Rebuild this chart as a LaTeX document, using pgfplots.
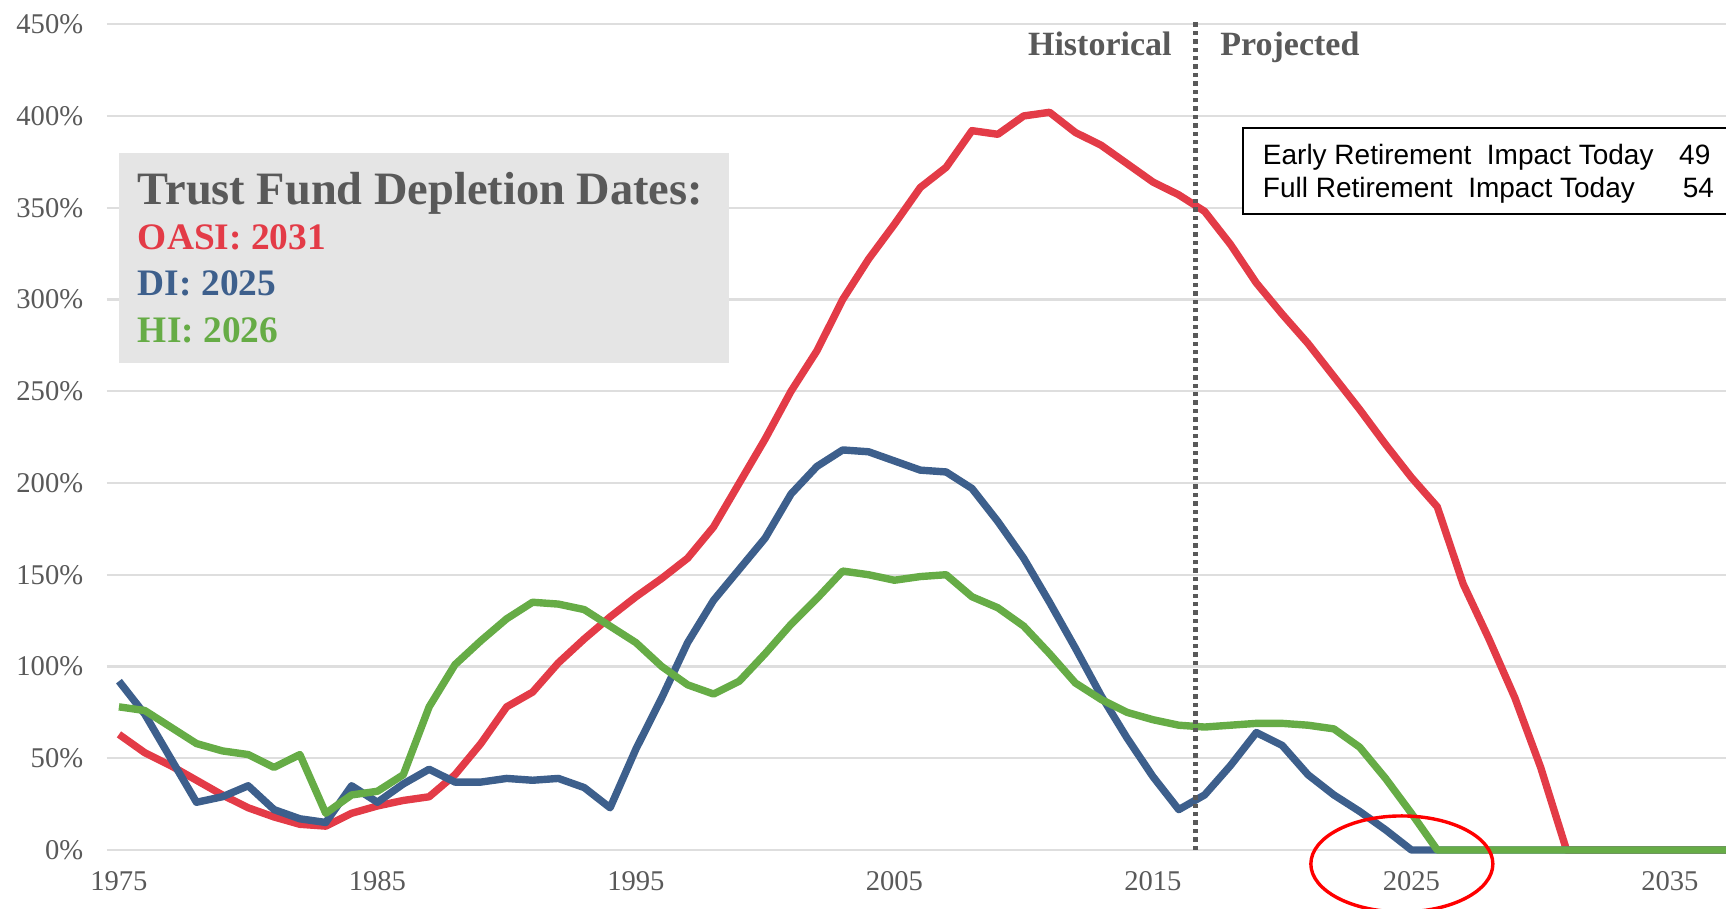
\documentclass[border=0pt]{standalone}
\usepackage{pgfplots}
\pgfplotsset{compat=1.18}
\usepackage{pgfplotstable}
\usepackage{fontspec}
\setmainfont{Liberation Serif}
\newfontfamily\arialfont{Liberation Sans}
\definecolor{oasi}{HTML}{E33B47}
\definecolor{di}{HTML}{3D5F8C}
\definecolor{hi}{HTML}{66AC46}
\definecolor{txtgray}{HTML}{595959}
\definecolor{gridgray}{HTML}{DEDEDE}
\definecolor{boxgray}{HTML}{E5E5E5}

\pgfplotstableread{
year oasi di hi
1975 63 92 78
1976 53 74 76
1977 46 50 67
1978 38 26 58
1979 30 29 54
1980 23 35 52
1981 18 22 45
1982 14 17 52
1983 13 15 20
1984 20 35 30
1985 24 26 32
1986 27 36 41
1987 29 44 78
1988 41 37 101
1989 58 37 114
1990 78 39 126
1991 86 38 135
1992 102 39 134
1993 115 34 131
1994 127 23 122
1995 138 55 113
1996 148 83 100
1997 159 113 90
1998 176 136 85
1999 200 153 92
2000 224 170 107
2001 250 194 123
2002 272 209 137
2003 300 218 152
2004 322 217 150
2005 341 212 147
2006 361 207 149
2007 372 206 150
2008 392 197 138
2009 390 179 132
2010 400 159 122
2011 402 135 107
2012 391 110 91
2013 384 84 82
2014 374 61 75
2015 364 40 71
2016 357 22 68
2017 348 30 67
2018 330 46 68
2019 309 64 69
2020 292 57 69
2021 276 41 68
2022 258 30 66
2023 240 21 56
2024 221 11 39
2025 203 0 20
2026 187 0 0
2027 145 0 0
2028 115 0 0
2029 83 0 0
2030 45 0 0
2031 0 0 0
2032 0 0 0
2033 0 0 0
2034 0 0 0
2035 0 0 0
2036 0 0 0
2037 0 0 0
2038 0 0 0
}\datatable

\begin{document}
\begin{tikzpicture}
\useasboundingbox (-53.4pt,-29.5pt) rectangle (809.6pt,425pt);
\clip (-53.4pt,-29.5pt) rectangle (809.6pt,425pt);
\begin{axis}[
  at={(0pt,0pt)}, anchor=south west,
  scale only axis, width=809.6pt, height=412.9pt,
  xmin=1974.53, xmax=2037.17, ymin=0, ymax=450,
  axis line style={draw=none},
  major tick length=0pt,
  tick style={draw=none},
  ymajorgrids, grid style={gridgray, line width=1.1pt},
  ytick={0,50,100,150,200,250,300,350,400,450},
  yticklabels={0\%,50\%,100\%,150\%,200\%,250\%,300\%,350\%,400\%,450\%},
  xtick={1975,1985,1995,2005,2015,2025,2035},
  xticklabels={1975,1985,1995,2005,2015,2025,2035},
  ticklabel style={font=\fontsize{14.3}{16}\selectfont, text=txtgray},
  yticklabel style={xshift=-8.3pt},
  xticklabel style={yshift=-7.3pt},
  clip=false,
]
\fill[boxgray] (axis cs:1975,265.2) rectangle (axis cs:1998.6,379.8);
\node[anchor=base west, inner sep=0, font=\fontsize{23.2}{26}\selectfont\bfseries, text=txtgray] at (axis cs:1975.72,352) {Trust Fund Depletion Dates:};
\node[anchor=base west, inner sep=0, font=\fontsize{18.7}{22}\selectfont\bfseries, text=oasi] at (axis cs:1975.72,327) {OASI: 2031};
\node[anchor=base west, inner sep=0, font=\fontsize{18.7}{22}\selectfont\bfseries, text=di] at (axis cs:1975.72,301.9) {DI: 2025};
\node[anchor=base west, inner sep=0, font=\fontsize{18.7}{22}\selectfont\bfseries, text=hi] at (axis cs:1975.72,276.7) {HI: 2026};

\addplot[oasi, line width=3.7pt, line join=round, mark=none] table[x=year,y=oasi]{\datatable};
\addplot[di, line width=3.7pt, line join=round, mark=none] table[x=year,y=di]{\datatable};
\addplot[hi, line width=3.7pt, line join=round, mark=none] table[x=year,y=hi]{\datatable};

\draw[txtgray, line width=2.9pt, dash pattern=on 2.2pt off 2pt] (axis cs:2016.65,0) -- (axis cs:2016.65,453);
\node[anchor=base east, inner sep=0, font=\fontsize{17}{20}\selectfont\bfseries, text=txtgray, xshift=-11.8pt] at (axis cs:2016.65,433) {Historical};
\node[anchor=base west, inner sep=0, font=\fontsize{17}{20}\selectfont\bfseries, text=txtgray, xshift=12.2pt] at (axis cs:2016.65,433) {Projected};

\draw[black, line width=1pt, fill=white] (axis cs:2018.48,346.8) rectangle (axis cs:2040,393.6);
\node[anchor=base west, inner sep=0, font=\arialfont\fontsize{14}{16}\selectfont] at (axis cs:2019.24,373.3) {Early Retirement\ \ Impact Today};
\node[anchor=base east, inner sep=0, font=\arialfont\fontsize{14}{16}\selectfont] at (axis cs:2036.58,373.3) {49};
\node[anchor=base west, inner sep=0, font=\arialfont\fontsize{14}{16}\selectfont] at (axis cs:2019.24,355.3) {Full Retirement\ \ Impact Today};
\node[anchor=base east, inner sep=0, font=\arialfont\fontsize{14}{16}\selectfont] at (axis cs:2036.72,355.3) {54};

\draw[red, line width=1.7pt] (axis cs:2024.63,-7.6) ellipse [x radius=45.5pt, y radius=24pt];
\end{axis}
\end{tikzpicture}
\end{document}
